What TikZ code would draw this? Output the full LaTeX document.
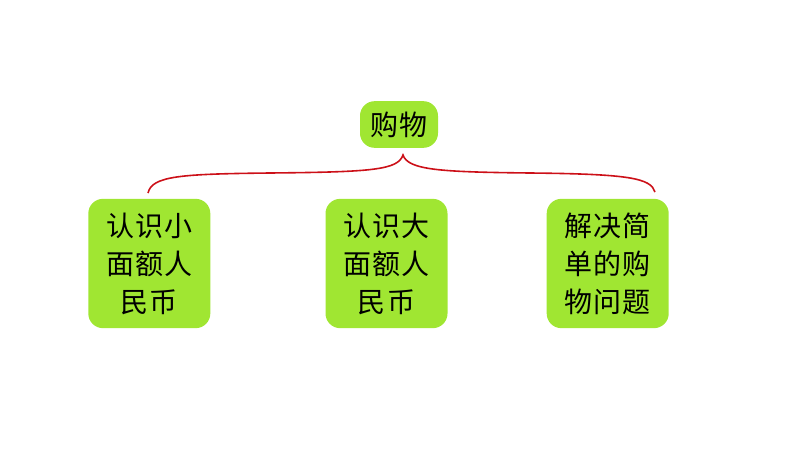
\documentclass[tikz,border=0pt]{standalone}
\usepackage{fontspec}
\usepackage{xcolor}
\usepackage{tikz}
\usetikzlibrary{positioning}
\setmainfont{Noto Sans CJK SC}

\definecolor{topicgreen}{RGB}{160,230,50}
\definecolor{bracered}{RGB}{204,16,24}

\tikzset{
  topic/.style={fill=topicgreen, rounded corners=11pt, align=center, inner sep=0pt,
    font=\fontsize{21}{28.5}\selectfont\addfontfeature{LetterSpace=4}},
  subtopic/.style={topic, minimum width=91.5pt, minimum height=97pt},
  brace/.style={draw=bracered, line width=1.2pt}
}

\begin{document}
\begin{tikzpicture}[x=0.75pt, y=-0.75pt]
            \useasboundingbox (0,0) rectangle (794,457);

            \node[topic, minimum width=58.5pt, minimum height=35pt] (shop) at (399,124.5) {购物};

            \node[subtopic] (big) at (386.5,263.5) {认识大\\面额人\\民币};
            \node[subtopic, left=86pt of big] (small) {认识小\\面额人\\民币};
            \node[subtopic, right=74pt of big] (solve) {解决简\\单的购\\物问题};

            \coordinate (bl) at (148,193);
            \coordinate (bt) at (403,155);
            \coordinate (br) at (655,192);

            \draw[brace] (bl) .. controls (152,176) and (180,174) .. (270,173)
                .. controls (372,172) and (398,170) .. (bt)
                .. controls (408,170) and (440,172) .. (530,173)
                .. controls (628,174) and (651,178) .. (br);
        \end{tikzpicture}
\end{document}
